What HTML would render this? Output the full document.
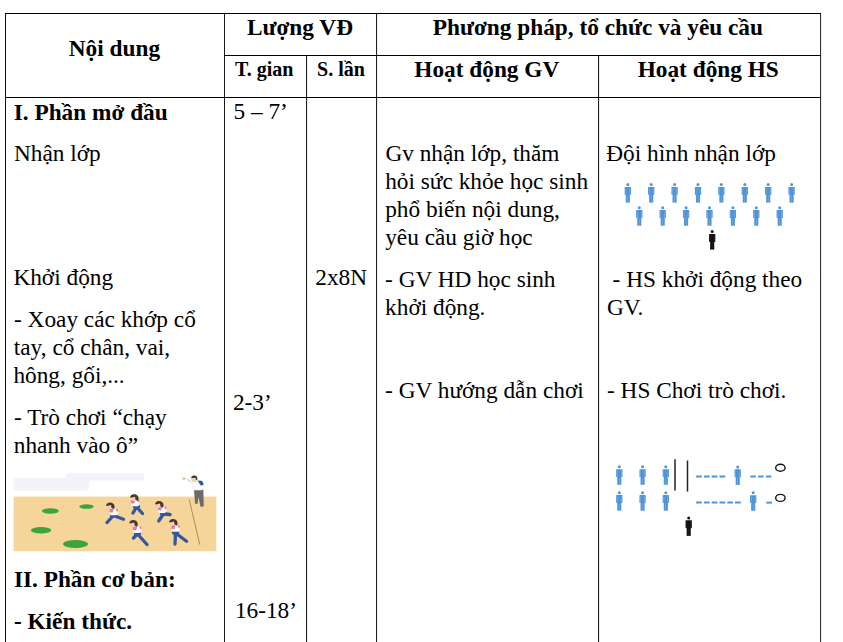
<!DOCTYPE html><html><head><meta charset="utf-8"><style>html,body{margin:0;padding:0;background:#fff;width:843px;height:642px;overflow:hidden}.t{position:absolute;white-space:pre;font-family:"Liberation Serif",serif;line-height:30px;color:#000}.b{font-weight:bold}.l{position:absolute;background:#000}svg{position:absolute;left:0;top:0}</style></head><body>
<div class="l" style="left:5px;top:13px;width:1px;height:629px;background:#111"></div>
<div class="l" style="left:224px;top:13px;width:1px;height:629px;background:#1a1a1a"></div>
<div class="l" style="left:306px;top:55px;width:1px;height:587px;background:#222;box-shadow:1px 0 0 #ececec"></div>
<div class="l" style="left:376px;top:13px;width:1px;height:629px;background:#222;box-shadow:1px 0 0 #ececec"></div>
<div class="l" style="left:598px;top:55px;width:1px;height:587px;background:#1a1a1a;box-shadow:1px 0 0 #ececec"></div>
<div class="l" style="left:820px;top:13px;width:1px;height:629px;background:#333;box-shadow:1px 0 0 #ececec"></div>
<div class="l" style="left:5px;top:13px;width:816px;height:1px;background:#000"></div>
<div class="l" style="left:224px;top:55px;width:597px;height:1px;background:#000"></div>
<div class="l" style="left:5px;top:97px;width:816px;height:1px;background:#000"></div>
<div class="t b" style="left:68.8px;top:32.7px;font-size:23.3px">Nội dung</div>
<div class="t b" style="left:246.9px;top:11.8px;font-size:23.3px">Lượng VĐ</div>
<div class="t b" style="left:432.8px;top:11.8px;font-size:23.3px">Phương pháp, tổ chức và yêu cầu</div>
<div class="t b" style="left:234.9px;top:53.8px;font-size:20px">T. gian</div>
<div class="t b" style="left:317.1px;top:53.8px;font-size:20px">S. lần</div>
<div class="t b" style="left:414.3px;top:53.8px;font-size:23.3px">Hoạt động GV</div>
<div class="t b" style="left:637.7px;top:53.8px;font-size:23.3px">Hoạt động HS</div>
<div class="t b" style="left:13.7px;top:96.9px;font-size:23.3px">I. Phần mở đầu</div>
<div class="t" style="left:14.0px;top:137.8px;font-size:23.3px">Nhận lớp</div>
<div class="t" style="left:13.4px;top:261.8px;font-size:23.3px">Khởi động</div>
<div class="t" style="left:14.0px;top:303.8px;font-size:23.3px">- Xoay các khớp cổ</div>
<div class="t" style="left:13.8px;top:331.8px;font-size:23.3px">tay, cổ chân, vai,</div>
<div class="t" style="left:13.4px;top:359.8px;font-size:23.3px">hông, gối,...</div>
<div class="t" style="left:14.0px;top:402.0px;font-size:23.3px">- Trò chơi “chạy</div>
<div class="t" style="left:13.8px;top:429.8px;font-size:23.3px">nhanh vào ô”</div>
<div class="t b" style="left:13.9px;top:564.1px;font-size:23.3px">II. Phần cơ bản:</div>
<div class="t b" style="left:13.9px;top:605.8px;font-size:23.3px">- Kiến thức.</div>
<div class="t" style="left:233.5px;top:96.0px;font-size:23.3px">5 – 7’</div>
<div class="t" style="left:232.9px;top:386.9px;font-size:23.3px">2-3’</div>
<div class="t" style="left:234.9px;top:594.9px;font-size:23.3px">16-18’</div>
<div class="t" style="left:315.3px;top:261.9px;font-size:23.3px">2x8N</div>
<div class="t" style="left:385.4px;top:137.8px;font-size:23.3px">Gv nhận lớp, thăm</div>
<div class="t" style="left:385.2px;top:165.7px;font-size:23.3px">hỏi sức khỏe học sinh</div>
<div class="t" style="left:385.2px;top:193.6px;font-size:23.3px">phổ biến nội dung,</div>
<div class="t" style="left:385.2px;top:221.5px;font-size:23.3px">yêu cầu giờ học</div>
<div class="t" style="left:385.1px;top:263.7px;font-size:23.3px">- GV HD học sinh</div>
<div class="t" style="left:385.1px;top:291.6px;font-size:23.3px">khởi động.</div>
<div class="t" style="left:385.1px;top:374.8px;font-size:23.3px">- GV hướng dẫn chơi</div>
<div class="t" style="left:606.3px;top:137.8px;font-size:23.3px">Đội hình nhận lớp</div>
<div class="t" style="left:612.6px;top:264.0px;font-size:23.3px">- HS khởi động theo</div>
<div class="t" style="left:606.9px;top:291.5px;font-size:23.3px">GV.</div>
<div class="t" style="left:607.0px;top:374.8px;font-size:23.3px">- HS Chơi trò chơi.</div>
<svg width="843" height="642" viewBox="0 0 843 642">
<g transform="translate(627.8,183.1)"><circle cx="0" cy="1.5" r="1.5" fill="#4f93d8"/><rect x="-3.15" y="3.9" width="6.3" height="7.9" rx="0.6" fill="#4f93d8"/><rect x="-2.05" y="11.6" width="4.1" height="7.9" fill="#4f93d8"/><rect x="-2.2" y="5.2" width="0.5" height="6.6" fill="#fff" opacity="0.35"/><rect x="1.7" y="5.2" width="0.5" height="6.6" fill="#fff" opacity="0.35"/><rect x="-0.25" y="12.4" width="0.5" height="7" fill="#fff" opacity="0.35"/></g>
<g transform="translate(651.1999999999999,183.1)"><circle cx="0" cy="1.5" r="1.5" fill="#4f93d8"/><rect x="-3.15" y="3.9" width="6.3" height="7.9" rx="0.6" fill="#4f93d8"/><rect x="-2.05" y="11.6" width="4.1" height="7.9" fill="#4f93d8"/><rect x="-2.2" y="5.2" width="0.5" height="6.6" fill="#fff" opacity="0.35"/><rect x="1.7" y="5.2" width="0.5" height="6.6" fill="#fff" opacity="0.35"/><rect x="-0.25" y="12.4" width="0.5" height="7" fill="#fff" opacity="0.35"/></g>
<g transform="translate(674.5999999999999,183.1)"><circle cx="0" cy="1.5" r="1.5" fill="#4f93d8"/><rect x="-3.15" y="3.9" width="6.3" height="7.9" rx="0.6" fill="#4f93d8"/><rect x="-2.05" y="11.6" width="4.1" height="7.9" fill="#4f93d8"/><rect x="-2.2" y="5.2" width="0.5" height="6.6" fill="#fff" opacity="0.35"/><rect x="1.7" y="5.2" width="0.5" height="6.6" fill="#fff" opacity="0.35"/><rect x="-0.25" y="12.4" width="0.5" height="7" fill="#fff" opacity="0.35"/></g>
<g transform="translate(698.0,183.1)"><circle cx="0" cy="1.5" r="1.5" fill="#4f93d8"/><rect x="-3.15" y="3.9" width="6.3" height="7.9" rx="0.6" fill="#4f93d8"/><rect x="-2.05" y="11.6" width="4.1" height="7.9" fill="#4f93d8"/><rect x="-2.2" y="5.2" width="0.5" height="6.6" fill="#fff" opacity="0.35"/><rect x="1.7" y="5.2" width="0.5" height="6.6" fill="#fff" opacity="0.35"/><rect x="-0.25" y="12.4" width="0.5" height="7" fill="#fff" opacity="0.35"/></g>
<g transform="translate(721.4,183.1)"><circle cx="0" cy="1.5" r="1.5" fill="#4f93d8"/><rect x="-3.15" y="3.9" width="6.3" height="7.9" rx="0.6" fill="#4f93d8"/><rect x="-2.05" y="11.6" width="4.1" height="7.9" fill="#4f93d8"/><rect x="-2.2" y="5.2" width="0.5" height="6.6" fill="#fff" opacity="0.35"/><rect x="1.7" y="5.2" width="0.5" height="6.6" fill="#fff" opacity="0.35"/><rect x="-0.25" y="12.4" width="0.5" height="7" fill="#fff" opacity="0.35"/></g>
<g transform="translate(744.8,183.1)"><circle cx="0" cy="1.5" r="1.5" fill="#4f93d8"/><rect x="-3.15" y="3.9" width="6.3" height="7.9" rx="0.6" fill="#4f93d8"/><rect x="-2.05" y="11.6" width="4.1" height="7.9" fill="#4f93d8"/><rect x="-2.2" y="5.2" width="0.5" height="6.6" fill="#fff" opacity="0.35"/><rect x="1.7" y="5.2" width="0.5" height="6.6" fill="#fff" opacity="0.35"/><rect x="-0.25" y="12.4" width="0.5" height="7" fill="#fff" opacity="0.35"/></g>
<g transform="translate(768.1999999999999,183.1)"><circle cx="0" cy="1.5" r="1.5" fill="#4f93d8"/><rect x="-3.15" y="3.9" width="6.3" height="7.9" rx="0.6" fill="#4f93d8"/><rect x="-2.05" y="11.6" width="4.1" height="7.9" fill="#4f93d8"/><rect x="-2.2" y="5.2" width="0.5" height="6.6" fill="#fff" opacity="0.35"/><rect x="1.7" y="5.2" width="0.5" height="6.6" fill="#fff" opacity="0.35"/><rect x="-0.25" y="12.4" width="0.5" height="7" fill="#fff" opacity="0.35"/></g>
<g transform="translate(791.5999999999999,183.1)"><circle cx="0" cy="1.5" r="1.5" fill="#4f93d8"/><rect x="-3.15" y="3.9" width="6.3" height="7.9" rx="0.6" fill="#4f93d8"/><rect x="-2.05" y="11.6" width="4.1" height="7.9" fill="#4f93d8"/><rect x="-2.2" y="5.2" width="0.5" height="6.6" fill="#fff" opacity="0.35"/><rect x="1.7" y="5.2" width="0.5" height="6.6" fill="#fff" opacity="0.35"/><rect x="-0.25" y="12.4" width="0.5" height="7" fill="#fff" opacity="0.35"/></g>
<g transform="translate(639.3,206.2)"><circle cx="0" cy="1.5" r="1.5" fill="#4f93d8"/><rect x="-3.15" y="3.9" width="6.3" height="7.9" rx="0.6" fill="#4f93d8"/><rect x="-2.05" y="11.6" width="4.1" height="7.9" fill="#4f93d8"/><rect x="-2.2" y="5.2" width="0.5" height="6.6" fill="#fff" opacity="0.35"/><rect x="1.7" y="5.2" width="0.5" height="6.6" fill="#fff" opacity="0.35"/><rect x="-0.25" y="12.4" width="0.5" height="7" fill="#fff" opacity="0.35"/></g>
<g transform="translate(662.6999999999999,206.2)"><circle cx="0" cy="1.5" r="1.5" fill="#4f93d8"/><rect x="-3.15" y="3.9" width="6.3" height="7.9" rx="0.6" fill="#4f93d8"/><rect x="-2.05" y="11.6" width="4.1" height="7.9" fill="#4f93d8"/><rect x="-2.2" y="5.2" width="0.5" height="6.6" fill="#fff" opacity="0.35"/><rect x="1.7" y="5.2" width="0.5" height="6.6" fill="#fff" opacity="0.35"/><rect x="-0.25" y="12.4" width="0.5" height="7" fill="#fff" opacity="0.35"/></g>
<g transform="translate(686.0999999999999,206.2)"><circle cx="0" cy="1.5" r="1.5" fill="#4f93d8"/><rect x="-3.15" y="3.9" width="6.3" height="7.9" rx="0.6" fill="#4f93d8"/><rect x="-2.05" y="11.6" width="4.1" height="7.9" fill="#4f93d8"/><rect x="-2.2" y="5.2" width="0.5" height="6.6" fill="#fff" opacity="0.35"/><rect x="1.7" y="5.2" width="0.5" height="6.6" fill="#fff" opacity="0.35"/><rect x="-0.25" y="12.4" width="0.5" height="7" fill="#fff" opacity="0.35"/></g>
<g transform="translate(709.5,206.2)"><circle cx="0" cy="1.5" r="1.5" fill="#4f93d8"/><rect x="-3.15" y="3.9" width="6.3" height="7.9" rx="0.6" fill="#4f93d8"/><rect x="-2.05" y="11.6" width="4.1" height="7.9" fill="#4f93d8"/><rect x="-2.2" y="5.2" width="0.5" height="6.6" fill="#fff" opacity="0.35"/><rect x="1.7" y="5.2" width="0.5" height="6.6" fill="#fff" opacity="0.35"/><rect x="-0.25" y="12.4" width="0.5" height="7" fill="#fff" opacity="0.35"/></g>
<g transform="translate(732.9,206.2)"><circle cx="0" cy="1.5" r="1.5" fill="#4f93d8"/><rect x="-3.15" y="3.9" width="6.3" height="7.9" rx="0.6" fill="#4f93d8"/><rect x="-2.05" y="11.6" width="4.1" height="7.9" fill="#4f93d8"/><rect x="-2.2" y="5.2" width="0.5" height="6.6" fill="#fff" opacity="0.35"/><rect x="1.7" y="5.2" width="0.5" height="6.6" fill="#fff" opacity="0.35"/><rect x="-0.25" y="12.4" width="0.5" height="7" fill="#fff" opacity="0.35"/></g>
<g transform="translate(756.3,206.2)"><circle cx="0" cy="1.5" r="1.5" fill="#4f93d8"/><rect x="-3.15" y="3.9" width="6.3" height="7.9" rx="0.6" fill="#4f93d8"/><rect x="-2.05" y="11.6" width="4.1" height="7.9" fill="#4f93d8"/><rect x="-2.2" y="5.2" width="0.5" height="6.6" fill="#fff" opacity="0.35"/><rect x="1.7" y="5.2" width="0.5" height="6.6" fill="#fff" opacity="0.35"/><rect x="-0.25" y="12.4" width="0.5" height="7" fill="#fff" opacity="0.35"/></g>
<g transform="translate(779.6999999999999,206.2)"><circle cx="0" cy="1.5" r="1.5" fill="#4f93d8"/><rect x="-3.15" y="3.9" width="6.3" height="7.9" rx="0.6" fill="#4f93d8"/><rect x="-2.05" y="11.6" width="4.1" height="7.9" fill="#4f93d8"/><rect x="-2.2" y="5.2" width="0.5" height="6.6" fill="#fff" opacity="0.35"/><rect x="1.7" y="5.2" width="0.5" height="6.6" fill="#fff" opacity="0.35"/><rect x="-0.25" y="12.4" width="0.5" height="7" fill="#fff" opacity="0.35"/></g>
<g transform="translate(712.2,230.1)"><circle cx="0" cy="1.5" r="1.5" fill="#111"/><rect x="-3.15" y="3.9" width="6.3" height="7.9" rx="0.6" fill="#111"/><rect x="-2.05" y="11.6" width="4.1" height="7.9" fill="#111"/><rect x="-2.2" y="5.2" width="0.5" height="6.6" fill="#555" opacity="0.35"/><rect x="1.7" y="5.2" width="0.5" height="6.6" fill="#555" opacity="0.35"/><rect x="-0.25" y="12.4" width="0.5" height="7" fill="#555" opacity="0.35"/></g>
<g transform="translate(619.3,465.3)"><circle cx="0" cy="1.5" r="1.5" fill="#4f93d8"/><rect x="-3.15" y="3.9" width="6.3" height="7.9" rx="0.6" fill="#4f93d8"/><rect x="-2.05" y="11.6" width="4.1" height="7.9" fill="#4f93d8"/><rect x="-2.2" y="5.2" width="0.5" height="6.6" fill="#fff" opacity="0.35"/><rect x="1.7" y="5.2" width="0.5" height="6.6" fill="#fff" opacity="0.35"/><rect x="-0.25" y="12.4" width="0.5" height="7" fill="#fff" opacity="0.35"/></g>
<g transform="translate(619.3,491.2)"><circle cx="0" cy="1.5" r="1.5" fill="#4f93d8"/><rect x="-3.15" y="3.9" width="6.3" height="7.9" rx="0.6" fill="#4f93d8"/><rect x="-2.05" y="11.6" width="4.1" height="7.9" fill="#4f93d8"/><rect x="-2.2" y="5.2" width="0.5" height="6.6" fill="#fff" opacity="0.35"/><rect x="1.7" y="5.2" width="0.5" height="6.6" fill="#fff" opacity="0.35"/><rect x="-0.25" y="12.4" width="0.5" height="7" fill="#fff" opacity="0.35"/></g>
<g transform="translate(642.6,465.3)"><circle cx="0" cy="1.5" r="1.5" fill="#4f93d8"/><rect x="-3.15" y="3.9" width="6.3" height="7.9" rx="0.6" fill="#4f93d8"/><rect x="-2.05" y="11.6" width="4.1" height="7.9" fill="#4f93d8"/><rect x="-2.2" y="5.2" width="0.5" height="6.6" fill="#fff" opacity="0.35"/><rect x="1.7" y="5.2" width="0.5" height="6.6" fill="#fff" opacity="0.35"/><rect x="-0.25" y="12.4" width="0.5" height="7" fill="#fff" opacity="0.35"/></g>
<g transform="translate(642.6,491.2)"><circle cx="0" cy="1.5" r="1.5" fill="#4f93d8"/><rect x="-3.15" y="3.9" width="6.3" height="7.9" rx="0.6" fill="#4f93d8"/><rect x="-2.05" y="11.6" width="4.1" height="7.9" fill="#4f93d8"/><rect x="-2.2" y="5.2" width="0.5" height="6.6" fill="#fff" opacity="0.35"/><rect x="1.7" y="5.2" width="0.5" height="6.6" fill="#fff" opacity="0.35"/><rect x="-0.25" y="12.4" width="0.5" height="7" fill="#fff" opacity="0.35"/></g>
<g transform="translate(665.8,465.3)"><circle cx="0" cy="1.5" r="1.5" fill="#4f93d8"/><rect x="-3.15" y="3.9" width="6.3" height="7.9" rx="0.6" fill="#4f93d8"/><rect x="-2.05" y="11.6" width="4.1" height="7.9" fill="#4f93d8"/><rect x="-2.2" y="5.2" width="0.5" height="6.6" fill="#fff" opacity="0.35"/><rect x="1.7" y="5.2" width="0.5" height="6.6" fill="#fff" opacity="0.35"/><rect x="-0.25" y="12.4" width="0.5" height="7" fill="#fff" opacity="0.35"/></g>
<g transform="translate(665.8,491.2)"><circle cx="0" cy="1.5" r="1.5" fill="#4f93d8"/><rect x="-3.15" y="3.9" width="6.3" height="7.9" rx="0.6" fill="#4f93d8"/><rect x="-2.05" y="11.6" width="4.1" height="7.9" fill="#4f93d8"/><rect x="-2.2" y="5.2" width="0.5" height="6.6" fill="#fff" opacity="0.35"/><rect x="1.7" y="5.2" width="0.5" height="6.6" fill="#fff" opacity="0.35"/><rect x="-0.25" y="12.4" width="0.5" height="7" fill="#fff" opacity="0.35"/></g>
<g transform="translate(737.7,465.4)"><circle cx="0" cy="1.5" r="1.5" fill="#4f93d8"/><rect x="-3.15" y="3.9" width="6.3" height="7.9" rx="0.6" fill="#4f93d8"/><rect x="-2.05" y="11.6" width="4.1" height="7.9" fill="#4f93d8"/><rect x="-2.2" y="5.2" width="0.5" height="6.6" fill="#fff" opacity="0.35"/><rect x="1.7" y="5.2" width="0.5" height="6.6" fill="#fff" opacity="0.35"/><rect x="-0.25" y="12.4" width="0.5" height="7" fill="#fff" opacity="0.35"/></g>
<g transform="translate(753.2,491.3)"><circle cx="0" cy="1.5" r="1.5" fill="#4f93d8"/><rect x="-3.15" y="3.9" width="6.3" height="7.9" rx="0.6" fill="#4f93d8"/><rect x="-2.05" y="11.6" width="4.1" height="7.9" fill="#4f93d8"/><rect x="-2.2" y="5.2" width="0.5" height="6.6" fill="#fff" opacity="0.35"/><rect x="1.7" y="5.2" width="0.5" height="6.6" fill="#fff" opacity="0.35"/><rect x="-0.25" y="12.4" width="0.5" height="7" fill="#fff" opacity="0.35"/></g>
<g transform="translate(688.7,516.4)"><circle cx="0" cy="1.5" r="1.5" fill="#111"/><rect x="-3.15" y="3.9" width="6.3" height="7.9" rx="0.6" fill="#111"/><rect x="-2.05" y="11.6" width="4.1" height="7.9" fill="#111"/><rect x="-2.2" y="5.2" width="0.5" height="6.6" fill="#555" opacity="0.35"/><rect x="1.7" y="5.2" width="0.5" height="6.6" fill="#555" opacity="0.35"/><rect x="-0.25" y="12.4" width="0.5" height="7" fill="#555" opacity="0.35"/></g>
<line x1="675" y1="459.2" x2="675" y2="490.6" stroke="#222" stroke-width="1.5"/>
<line x1="687.5" y1="460.5" x2="687.5" y2="491.6" stroke="#222" stroke-width="1.5"/>
<line x1="696.1" y1="476.5" x2="725.5" y2="476.5" stroke="#4f93d8" stroke-width="2" stroke-dasharray="5.7 2.1"/>
<line x1="750.3" y1="476.5" x2="772" y2="476.5" stroke="#4f93d8" stroke-width="2" stroke-dasharray="5.5 2.3"/>
<line x1="696.1" y1="502.6" x2="741.4" y2="502.6" stroke="#4f93d8" stroke-width="2" stroke-dasharray="5.7 2.1"/>
<line x1="766.3" y1="502.6" x2="772" y2="502.6" stroke="#4f93d8" stroke-width="2"/>
<ellipse cx="780.4" cy="467.8" rx="4.7" ry="3.5" fill="none" stroke="#111" stroke-width="1.4"/>
<ellipse cx="780.4" cy="497.9" rx="4.7" ry="3.5" fill="none" stroke="#111" stroke-width="1.4"/>
<path d="M66 476 Q66 473 69 473 L141.5 473 Q144.5 473 144.5 476 L144.5 477.5 Q144.5 480.4 141.5 480.4 L89.2 480.4 L89.2 487.7 Q89.2 490.7 86.2 490.7 L16.7 490.7 Q13.7 490.7 13.7 487.7 L13.7 481 Q13.7 478 16.7 478 L66 478 Z" fill="#f3f3f9"/>
<rect x="13.7" y="496.6" width="202.6" height="54.6" fill="#f6d59a"/>
<ellipse cx="50.4" cy="511" rx="8.5" ry="2.75" fill="#3ba43a"/>
<ellipse cx="86.5" cy="506.6" rx="7.25" ry="2.25" fill="#3ba43a"/>
<ellipse cx="41.1" cy="530.3" rx="10.2" ry="3.25" fill="#3ba43a"/>
<ellipse cx="75.5" cy="544" rx="12.5" ry="4.0" fill="#3ba43a"/>
<line x1="189.2" y1="499.3" x2="199.8" y2="544.7" stroke="#a0604c" stroke-width="0.8" opacity="0.85"/>
<path d="M113.5 515.5 L107 522.5" stroke="#34589e" stroke-width="3.3" stroke-linecap="round" fill="none"/><path d="M113.5 515.5 L123.5 519.2" stroke="#34589e" stroke-width="3.3" stroke-linecap="round" fill="none"/><ellipse cx="113.5" cy="515.0" rx="3.6" ry="2.6" fill="#34589e"/><path d="M110.0 511.4 L106.0 513.9" stroke="#f1cfb0" stroke-width="1.1"/><path d="M117.5 510.9 L120.0 513.4" stroke="#f1cfb0" stroke-width="1.1"/><rect x="109.5" y="508.4" width="8.4" height="6.8" rx="2" fill="#fbfbfb"/><path d="M109.5 509.9 Q109.5 508.4 111.5 508.4 L113.7 508.4 L112.7 512.6 L109.5 512.1999999999999 Z" fill="#e07aa4"/><path d="M115.9 508.4 L116.9 508.4 Q117.9 508.4 117.9 509.9 L117.9 511.4 L116.3 511.0 Z" fill="#e07aa4"/><ellipse cx="110.3" cy="505.7" rx="4.1" ry="3.3" fill="#f1cfb0"/><path d="M106 505.4 Q107 502.09999999999997 110.5 502.4 Q114.6 502.9 114.6 506.9 L114 509.2 L111.5 507.79999999999995 L111 504.9 L107 505.9 Z" fill="#4a3631"/>
<path d="M136.5 507 L133 513" stroke="#34589e" stroke-width="3.3" stroke-linecap="round" fill="none"/><path d="M136.5 507 L142.5 513.5" stroke="#34589e" stroke-width="3.3" stroke-linecap="round" fill="none"/><ellipse cx="136.5" cy="506.5" rx="3.6" ry="2.6" fill="#34589e"/><path d="M131.5 502.4 L127.5 504.9" stroke="#f1cfb0" stroke-width="1.1"/><path d="M139 501.9 L141.5 504.4" stroke="#f1cfb0" stroke-width="1.1"/><rect x="131" y="499.4" width="8.4" height="6.8" rx="2" fill="#fbfbfb"/><path d="M131 500.9 Q131 499.4 133 499.4 L135.2 499.4 L134.2 503.59999999999997 L131 503.2 Z" fill="#e07aa4"/><path d="M137.4 499.4 L138.4 499.4 Q139.4 499.4 139.4 500.9 L139.4 502.4 L137.8 502.0 Z" fill="#e07aa4"/><ellipse cx="134.3" cy="497.6" rx="4.1" ry="3.3" fill="#f1cfb0"/><path d="M130 497.3 Q131 494.0 134.5 494.3 Q138.6 494.8 138.6 498.8 L138 501.1 L135.5 499.7 L135 496.8 L131 497.8 Z" fill="#4a3631"/>
<path d="M137.5 534 L133.5 538" stroke="#34589e" stroke-width="3.3" stroke-linecap="round" fill="none"/><path d="M137.5 534 L147 544.5" stroke="#34589e" stroke-width="3.3" stroke-linecap="round" fill="none"/><ellipse cx="137.5" cy="533.5" rx="3.6" ry="2.6" fill="#34589e"/><path d="M133.5 529.2 L129.5 531.7" stroke="#f1cfb0" stroke-width="1.1"/><path d="M141 528.7 L143.5 531.2" stroke="#f1cfb0" stroke-width="1.1"/><rect x="133" y="526.2" width="8.4" height="6.8" rx="2" fill="#fbfbfb"/><path d="M133 527.7 Q133 526.2 135 526.2 L137.2 526.2 L136.2 530.4000000000001 L133 530.0 Z" fill="#e07aa4"/><path d="M139.4 526.2 L140.4 526.2 Q141.4 526.2 141.4 527.7 L141.4 529.2 L139.8 528.8000000000001 Z" fill="#e07aa4"/><ellipse cx="133.5" cy="523.3" rx="4.1" ry="3.3" fill="#f1cfb0"/><path d="M129.2 523 Q130.2 519.7 133.7 520 Q137.79999999999998 520.5 137.79999999999998 524.5 L137.2 526.8 L134.7 525.4 L134.2 522.5 L130.2 523.5 Z" fill="#4a3631"/>
<path d="M163.5 514 L158.7 521" stroke="#34589e" stroke-width="3.3" stroke-linecap="round" fill="none"/><path d="M163.5 514 L170 514.5" stroke="#34589e" stroke-width="3.3" stroke-linecap="round" fill="none"/><ellipse cx="163.5" cy="513.5" rx="3.6" ry="2.6" fill="#34589e"/><path d="M158.5 509.2 L154.5 511.7" stroke="#f1cfb0" stroke-width="1.1"/><path d="M166 508.7 L168.5 511.2" stroke="#f1cfb0" stroke-width="1.1"/><rect x="158" y="506.2" width="8.4" height="6.8" rx="2" fill="#fbfbfb"/><path d="M158 507.7 Q158 506.2 160 506.2 L162.2 506.2 L161.2 510.4 L158 510.0 Z" fill="#e07aa4"/><path d="M164.4 506.2 L165.4 506.2 Q166.4 506.2 166.4 507.7 L166.4 509.2 L164.8 508.8 Z" fill="#e07aa4"/><ellipse cx="159.3" cy="504.3" rx="4.1" ry="3.3" fill="#f1cfb0"/><path d="M155 504 Q156 500.7 159.5 501 Q163.6 501.5 163.6 505.5 L163 507.8 L160.5 506.4 L160 503.5 L156 504.5 Z" fill="#4a3631"/>
<path d="M175.5 533 L175 544" stroke="#34589e" stroke-width="3.3" stroke-linecap="round" fill="none"/><path d="M175.5 533 L186.5 541.2" stroke="#34589e" stroke-width="3.3" stroke-linecap="round" fill="none"/><ellipse cx="175.5" cy="532.5" rx="3.6" ry="2.6" fill="#34589e"/><path d="M171.8 528 L167.8 530.5" stroke="#f1cfb0" stroke-width="1.1"/><path d="M179.3 527.5 L181.8 530" stroke="#f1cfb0" stroke-width="1.1"/><rect x="171.3" y="525" width="8.4" height="6.8" rx="2" fill="#fbfbfb"/><path d="M171.3 526.5 Q171.3 525 173.3 525 L175.5 525 L174.5 529.2 L171.3 528.8 Z" fill="#e07aa4"/><path d="M177.70000000000002 525 L178.70000000000002 525 Q179.70000000000002 525 179.70000000000002 526.5 L179.70000000000002 528 L178.10000000000002 527.6 Z" fill="#e07aa4"/><ellipse cx="173.3" cy="522.1999999999999" rx="4.1" ry="3.3" fill="#f1cfb0"/><path d="M169 521.9 Q170 518.6 173.5 518.9 Q177.6 519.4 177.6 523.4 L177 525.6999999999999 L174.5 524.3 L174 521.4 L170 522.4 Z" fill="#4a3631"/>
<path d="M194 489.5 L203.3 489.5 L203.8 506.5 L200.5 506.8 L198.5 497 L197.5 504 L195 503.5 Z" fill="#6b6b6b"/><path d="M187 479 L191.5 482.5" stroke="#f1cfb0" stroke-width="1.2"/><rect x="191.3" y="480.6" width="11.6" height="9.6" rx="2" fill="#fbfbfb"/><path d="M197.5 480.6 L201.5 480.8 Q203.6 481.6 203.6 485 L200.8 485.5 Z" fill="#2d5aa0"/><ellipse cx="194.2" cy="478.9" rx="3" ry="3.1" fill="#f1cfb0"/><path d="M191.2 478 Q191.3 475.3 194.5 475.4 Q197.8 475.6 197.4 479.5 L196 480 L195.6 477.8 Z" fill="#333"/><ellipse cx="184" cy="478.7" rx="1.7" ry="1.4" fill="#efc58e"/>
</svg>
</body></html>
